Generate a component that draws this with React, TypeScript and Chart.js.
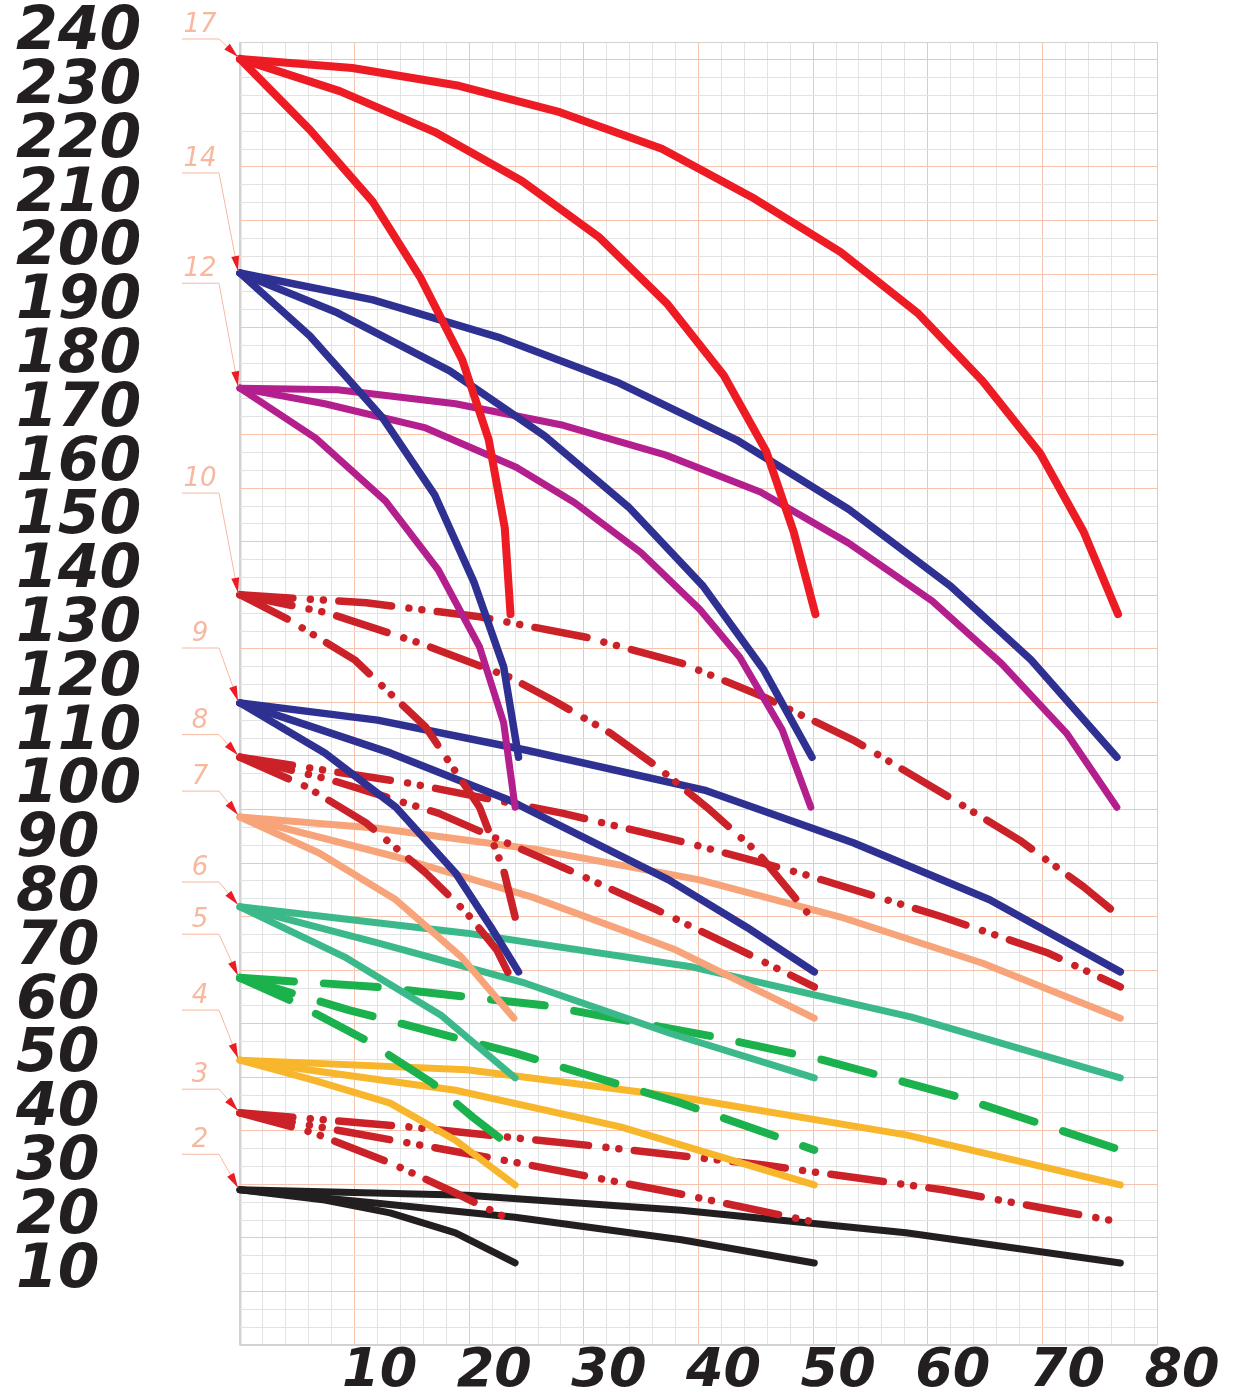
import React, { useEffect, useRef } from 'react';
import { Chart, registerables } from 'chart.js';

Chart.register(...registerables);

// ---------- tick labels ----------
const yTickValues = [10, 20, 30, 40, 50, 60, 70, 80, 90, 100, 110, 120, 130, 140, 150, 160, 170, 180, 190, 200, 210, 220, 230, 240];
const yTickLabels = ['10', '20', '30', '40', '50', '60', '70', '80', '90', '100', '110', '120', '130', '140', '150', '160', '170', '180', '190', '200', '210', '220', '230', '240'];
const xTickValues = [10, 20, 30, 40, 50, 60, 70, 80];
const xTickLabels = ['10', '20', '30', '40', '50', '60', '70', '80'];

// ---------- series (x, y) ----------
const red17Short = [[0, 235.3], [6.1, 222.1], [11.6, 208.7], [15.7, 194.8], [19.4, 179.3], [21.7, 164.5], [23.1, 148.1], [23.6, 132.1]];
const red17Mid = [[0, 235.3], [8.7, 229.3], [17.0, 221.7], [24.6, 212.6], [31.3, 202.2], [37.3, 189.7], [42.2, 176.5], [45.9, 162.4], [48.3, 147.4], [50.2, 132.1]];
const red17Long = [[0, 235.3], [9.8, 233.6], [19.1, 230.3], [27.9, 225.4], [36.8, 218.6], [44.9, 209.3], [52.4, 199.4], [59.1, 188.1], [64.8, 175.4], [69.8, 162.0], [73.6, 147.4], [76.6, 132.1]];

const blue14Short = [[0, 195.5], [6.1, 183.8], [12.4, 168.7], [17.0, 154.2], [20.4, 138.1], [23.0, 122.3], [24.3, 105.5]];
const blue14Mid = [[0, 195.5], [8.5, 188.1], [18.3, 177.3], [26.6, 165.2], [33.9, 152.0], [40.4, 137.3], [45.7, 121.7], [49.9, 105.5]];
const blue14Long = [[0, 195.5], [11.6, 190.5], [22.5, 183.6], [32.9, 175.2], [43.3, 164.5], [53.1, 151.6], [62.0, 137.3], [69.0, 123.6], [76.5, 105.5]];

const purple12Short = [[0, 174.1], [6.6, 164.8], [12.7, 153.1], [17.3, 140.3], [20.9, 126.0], [23.0, 111.9], [24.0, 96.2]];
const purple12Mid = [[0, 174.1], [7.4, 171.2], [16.2, 166.7], [24.1, 159.4], [29.2, 152.8], [35.0, 143.5], [40.1, 133.0], [43.6, 124.1], [47.3, 110.6], [49.8, 96.2]];
const purple12Long = [[0, 174.1], [8.5, 173.8], [18.8, 171.2], [28.2, 167.2], [37.1, 161.7], [45.4, 154.8], [53.1, 145.3], [60.4, 134.5], [66.4, 123.0], [72.1, 110.0], [76.5, 96.2]];

const dash10Short = [[0, 135.7], [4.3, 131.0], [10.0, 123.6], [16.2, 111.1], [20.9, 96.2], [23.0, 84.5], [24.0, 75.8]];
const dash10Mid = [[0, 135.7], [7.7, 132.3], [15.7, 126.7], [23.5, 120.4], [27.3, 116.1], [32.3, 110.0], [36.4, 103.7], [41.0, 95.7], [45.2, 87.7], [49.8, 75.8]];
const dash10Long = [[0, 135.7], [11.0, 134.2], [20.9, 131.6], [30.2, 127.8], [38.5, 123.0], [45.7, 116.7], [53.5, 108.7], [61.3, 98.8], [68.0, 90.1], [73.6, 81.4], [76.8, 75.8]];

const blue9Short = [[0, 115.6], [7.4, 106.3], [13.6, 96.2], [18.8, 84.0], [21.9, 73.9], [24.3, 65.6]];
const blue9Mid = [[0, 115.6], [13.1, 106.3], [23.5, 97.5], [37.4, 82.7], [44.2, 73.9], [50.1, 65.6]];
const blue9Long = [[0, 115.6], [12.0, 112.4], [25.0, 106.8], [40.5, 99.4], [53.5, 89.6], [65.4, 79.0], [76.8, 65.6]];

const dash8Short = [[0, 105.5], [5.8, 100.0], [11.0, 93.3], [16.2, 84.0], [19.8, 76.5], [22.4, 69.7], [24.0, 62.8]];
const dash8Mid = [[0, 105.5], [7.9, 101.3], [17.3, 95.1], [28.1, 85.1], [36.4, 77.1], [43.6, 69.7], [50.1, 62.8]];
const dash8Long = [[0, 105.5], [14.7, 100.7], [28.1, 95.1], [39.0, 89.6], [48.8, 84.0], [61.3, 75.8], [70.5, 69.1], [76.8, 62.8]];

const salmon7Short = [[0, 94.4], [6.9, 87.7], [13.6, 79.0], [19.3, 68.4], [23.9, 57.0]];
const salmon7Mid = [[0, 94.4], [13.6, 87.0], [25.5, 79.5], [38.0, 69.7], [50.1, 57.0]];
const salmon7Long = [[0, 94.4], [12.0, 92.3], [26.0, 88.3], [40.1, 82.7], [52.4, 75.8], [64.8, 67.2], [76.8, 57.0]];

const teal6Short = [[0, 77.7], [9.1, 68.4], [17.5, 57.6], [24.0, 45.9]];
const teal6Mid = [[0, 77.7], [12.0, 71.0], [24.9, 63.5], [37.5, 54.2], [50.1, 45.9]];
const teal6Long = [[0, 77.7], [19.8, 72.8], [39.5, 66.5], [58.6, 57.2], [76.8, 45.9]];

const green5Short = [[0, 64.5], [4.3, 60.4], [11.0, 52.9], [16.8, 44.9], [20.3, 38.6], [24.0, 32.5]];
const green5Mid = [[0, 64.5], [9.5, 58.5], [24.0, 50.5], [38.5, 41.2], [50.1, 32.5]];
const green5Long = [[0, 64.5], [12.0, 62.8], [26.5, 59.4], [41.5, 53.5], [50.9, 49.2], [62.8, 42.3], [76.8, 32.5]];

const yellow4Short = [[0, 49.2], [6.4, 45.5], [13.1, 41.2], [18.8, 34.3], [24.0, 26.0]];
const yellow4Mid = [[0, 49.2], [7.9, 46.8], [18.8, 43.6], [33.2, 36.8], [50.1, 26.0]];
const yellow4Long = [[0, 49.2], [19.8, 47.4], [38.5, 42.3], [58.1, 35.3], [76.8, 26.0]];

const dash3Short = [[0, 39.4], [6.4, 35.7], [13.1, 30.1], [18.8, 24.5], [24.0, 19.1]];
const dash3Mid = [[0, 39.4], [9.5, 35.8], [23.0, 30.6], [38.0, 24.5], [50.1, 19.1]];
const dash3Long = [[0, 39.4], [14.7, 36.8], [30.2, 33.4], [45.7, 29.7], [61.3, 25.1], [76.8, 19.1]];

const black2Short = [[0, 25.1], [7.4, 23.2], [13.1, 20.8], [18.8, 17.1], [24.0, 11.5]];
const black2Mid = [[0, 25.1], [12.0, 22.6], [24.0, 20.0], [38.5, 15.8], [50.1, 11.5]];
const black2Long = [[0, 25.1], [19.8, 24.1], [38.5, 21.3], [58.1, 17.1], [76.8, 11.5]];

// ---------- group annotations ----------
const groupNames = ['17', '14', '12', '10', '9', '8', '7', '6', '5', '4', '3', '2'];
const groupLabelLevels = [239.0, 214.1, 193.6, 154.6, 125.8, 109.7, 99.2, 82.3, 72.6, 58.5, 43.8, 31.7];

// ---------- styles ----------
const DASHDOT = [53, 17.5, 0.01, 13, 0.01, 15.5];
const DASHED = [54, 30];
const STYLE = {
  red: { color: '#ed1c24', width: 8, dash: [] as number[] },
  blue: { color: '#2e3192', width: 7.5, dash: [] as number[] },
  purple: { color: '#b41f8e', width: 7, dash: [] as number[] },
  dred: { color: '#cb2128', width: 7.5, dash: DASHDOT },
  salmon: { color: '#f7a47a', width: 7, dash: [] as number[] },
  teal: { color: '#3bb98a', width: 7, dash: [] as number[] },
  green: { color: '#1bb14c', width: 8, dash: DASHED },
  yellow: { color: '#f8b62c', width: 7, dash: [] as number[] },
  black: { color: '#231f20', width: 7, dash: [] as number[] },
};

const groups = [
  { style: STYLE.red, lines: [red17Short, red17Mid, red17Long] },
  { style: STYLE.blue, lines: [blue14Short, blue14Mid, blue14Long] },
  { style: STYLE.purple, lines: [purple12Short, purple12Mid, purple12Long] },
  { style: STYLE.dred, lines: [dash10Short, dash10Mid, dash10Long] },
  { style: STYLE.blue, lines: [blue9Short, blue9Mid, blue9Long] },
  { style: STYLE.dred, lines: [dash8Short, dash8Mid, dash8Long] },
  { style: STYLE.salmon, lines: [salmon7Short, salmon7Mid, salmon7Long] },
  { style: STYLE.teal, lines: [teal6Short, teal6Mid, teal6Long] },
  { style: STYLE.green, lines: [green5Short, green5Mid, green5Long] },
  { style: STYLE.yellow, lines: [yellow4Short, yellow4Mid, yellow4Long] },
  { style: STYLE.dred, lines: [dash3Short, dash3Mid, dash3Long] },
  { style: STYLE.black, lines: [black2Short, black2Mid, black2Long] },
];

const GRID_ORANGE = '#f8c3ad';
const GRID_GRAY = '#e3e3e3';
const BORDER_GRAY = '#d2d2d2';

const leaderPlugin = {
  id: 'groupLeaders',
  afterDatasetsDraw(chart: any) {
    const { ctx, chartArea, scales } = chart;
    const xs = scales.x;
    const ys = scales.y;
    ctx.save();
    groupNames.forEach((name, i) => {
      const first = groups[i].lines[0][0];
      const tipX = xs.getPixelForValue(first[0]) - 2;
      const tipY = ys.getPixelForValue(first[1]) - 2;
      const ly = ys.getPixelForValue(groupLabelLevels[i]);
      const hx0 = chartArea.left - 58;
      const hx1 = chartArea.left - 21;
      ctx.strokeStyle = '#f7b89f';
      ctx.lineWidth = 1;
      ctx.beginPath();
      ctx.moveTo(hx0, ly);
      ctx.lineTo(hx1, ly);
      ctx.lineTo(tipX, tipY);
      ctx.stroke();
      const ang = Math.atan2(tipY - ly, tipX - hx1);
      const c = Math.cos(ang);
      const s = Math.sin(ang);
      const L = 15;
      const W = 4;
      ctx.fillStyle = '#ed1c24';
      ctx.beginPath();
      ctx.moveTo(tipX, tipY);
      ctx.lineTo(tipX - L * c + W * s, tipY - L * s - W * c);
      ctx.lineTo(tipX - L * c - W * s, tipY - L * s + W * c);
      ctx.closePath();
      ctx.fill();
      ctx.font = 'italic 200 26px "DejaVu Sans"';
      ctx.fillStyle = '#f7b89f';
      ctx.textAlign = 'center';
      ctx.textBaseline = 'alphabetic';
      ctx.fillText(name, hx1 - 19, ly - 7);
    });
    ctx.restore();
  },
};

export default function App() {
  const canvasRef = useRef<HTMLCanvasElement | null>(null);

  useEffect(() => {
    if (!canvasRef.current) return;
    const datasets: any[] = [];
    groups.forEach((g) => {
      g.lines.forEach((pts) => {
        datasets.push({
          data: pts.map(([x, y]) => ({ x, y })),
          borderColor: g.style.color,
          borderWidth: g.style.width,
          borderDash: g.style.dash,
          borderCapStyle: 'round',
          borderJoinStyle: 'round',
          pointRadius: 0,
          pointHoverRadius: 0,
          tension: 0,
          fill: false,
          clip: false,
          xAxisID: 'x',
          yAxisID: 'y',
        });
      });
    });

    const chart = new Chart(canvasRef.current, {
      type: 'line',
      data: { datasets },
      options: {
        responsive: false,
        animation: false,
        events: [],
        layout: { padding: { left: 16, top: 42, right: 78, bottom: 0 } },
        plugins: {
          legend: { display: false },
          tooltip: { enabled: false },
          title: { display: false },
        },
        scales: {
          x: {
            type: 'linear',
            position: 'bottom',
            min: 0,
            max: 80,
            bounds: 'data',
            afterBuildTicks: (s: any) => {
              const t = [];
              for (let v = 0; v <= 80; v += 2) t.push({ value: v });
              s.ticks = t;
            },
            afterFit: (s: any) => {
              s.height = 48;
            },
            grid: {
              drawTicks: false,
              color: (c: any) => (c.tick.value === 0 ? BORDER_GRAY : c.tick.value % 10 === 0 ? GRID_ORANGE : GRID_GRAY),
              lineWidth: (c: any) => (c.tick.value === 0 ? 2.5 : 1),
            },
            border: { display: true, color: BORDER_GRAY, width: 1.5 },
            ticks: {
              autoSkip: false,
              maxRotation: 0,
              minRotation: 0,
              labelOffset: 25,
              padding: 0,
              color: '#231f20',
              font: { family: '"DejaVu Sans"', size: 54, weight: 'bold', style: 'italic', lineHeight: 1 },
              callback: (v: any) => {
                const i = xTickValues.indexOf(Number(v));
                return i >= 0 ? xTickLabels[i] : '';
              },
            },
          },
          y: {
            type: 'linear',
            position: 'left',
            min: -3.75,
            max: 238.44,
            bounds: 'data',
            afterBuildTicks: (s: any) => {
              s.ticks = yTickValues.map((v) => ({ value: v }));
            },
            afterFit: (s: any) => {
              s.width = 224;
            },
            grid: { display: false },
            border: { display: false },
            ticks: {
              autoSkip: false,
              crossAlign: 'far',
              padding: 0,
              color: '#231f20',
              font: { family: '"DejaVu Sans"', size: 60, weight: 'bold', style: 'italic', lineHeight: 1 },
              callback: (v: any) => {
                const i = yTickValues.indexOf(Number(v));
                return i >= 0 ? yTickLabels[i] : '';
              },
            },
          },
          yg: {
            type: 'linear',
            position: 'left',
            min: 0,
            max: 73,
            bounds: 'data',
            afterBuildTicks: (s: any) => {
              const t = [];
              for (let v = 0; v <= 73; v += 1) t.push({ value: v });
              s.ticks = t;
            },
            afterFit: (s: any) => {
              s.width = 0;
            },
            grid: {
              drawTicks: false,
              color: (c: any) => (c.tick.value === 0 || c.tick.value === 73 ? BORDER_GRAY : c.tick.value % 3 === 0 ? GRID_ORANGE : GRID_GRAY),
              lineWidth: 1,
            },
            border: { display: false },
            ticks: { display: false },
          },
        },
      } as any,
      plugins: [leaderPlugin],
    });

    return () => {
      chart.destroy();
    };
  }, []);

  return (
    <div style={{ position: 'absolute', left: 0, top: 0, width: 1235, height: 1393, background: '#ffffff' }}>
      <canvas ref={canvasRef} width={1235} height={1393} style={{ width: 1235, height: 1393, display: 'block' }} />
    </div>
  );
}
